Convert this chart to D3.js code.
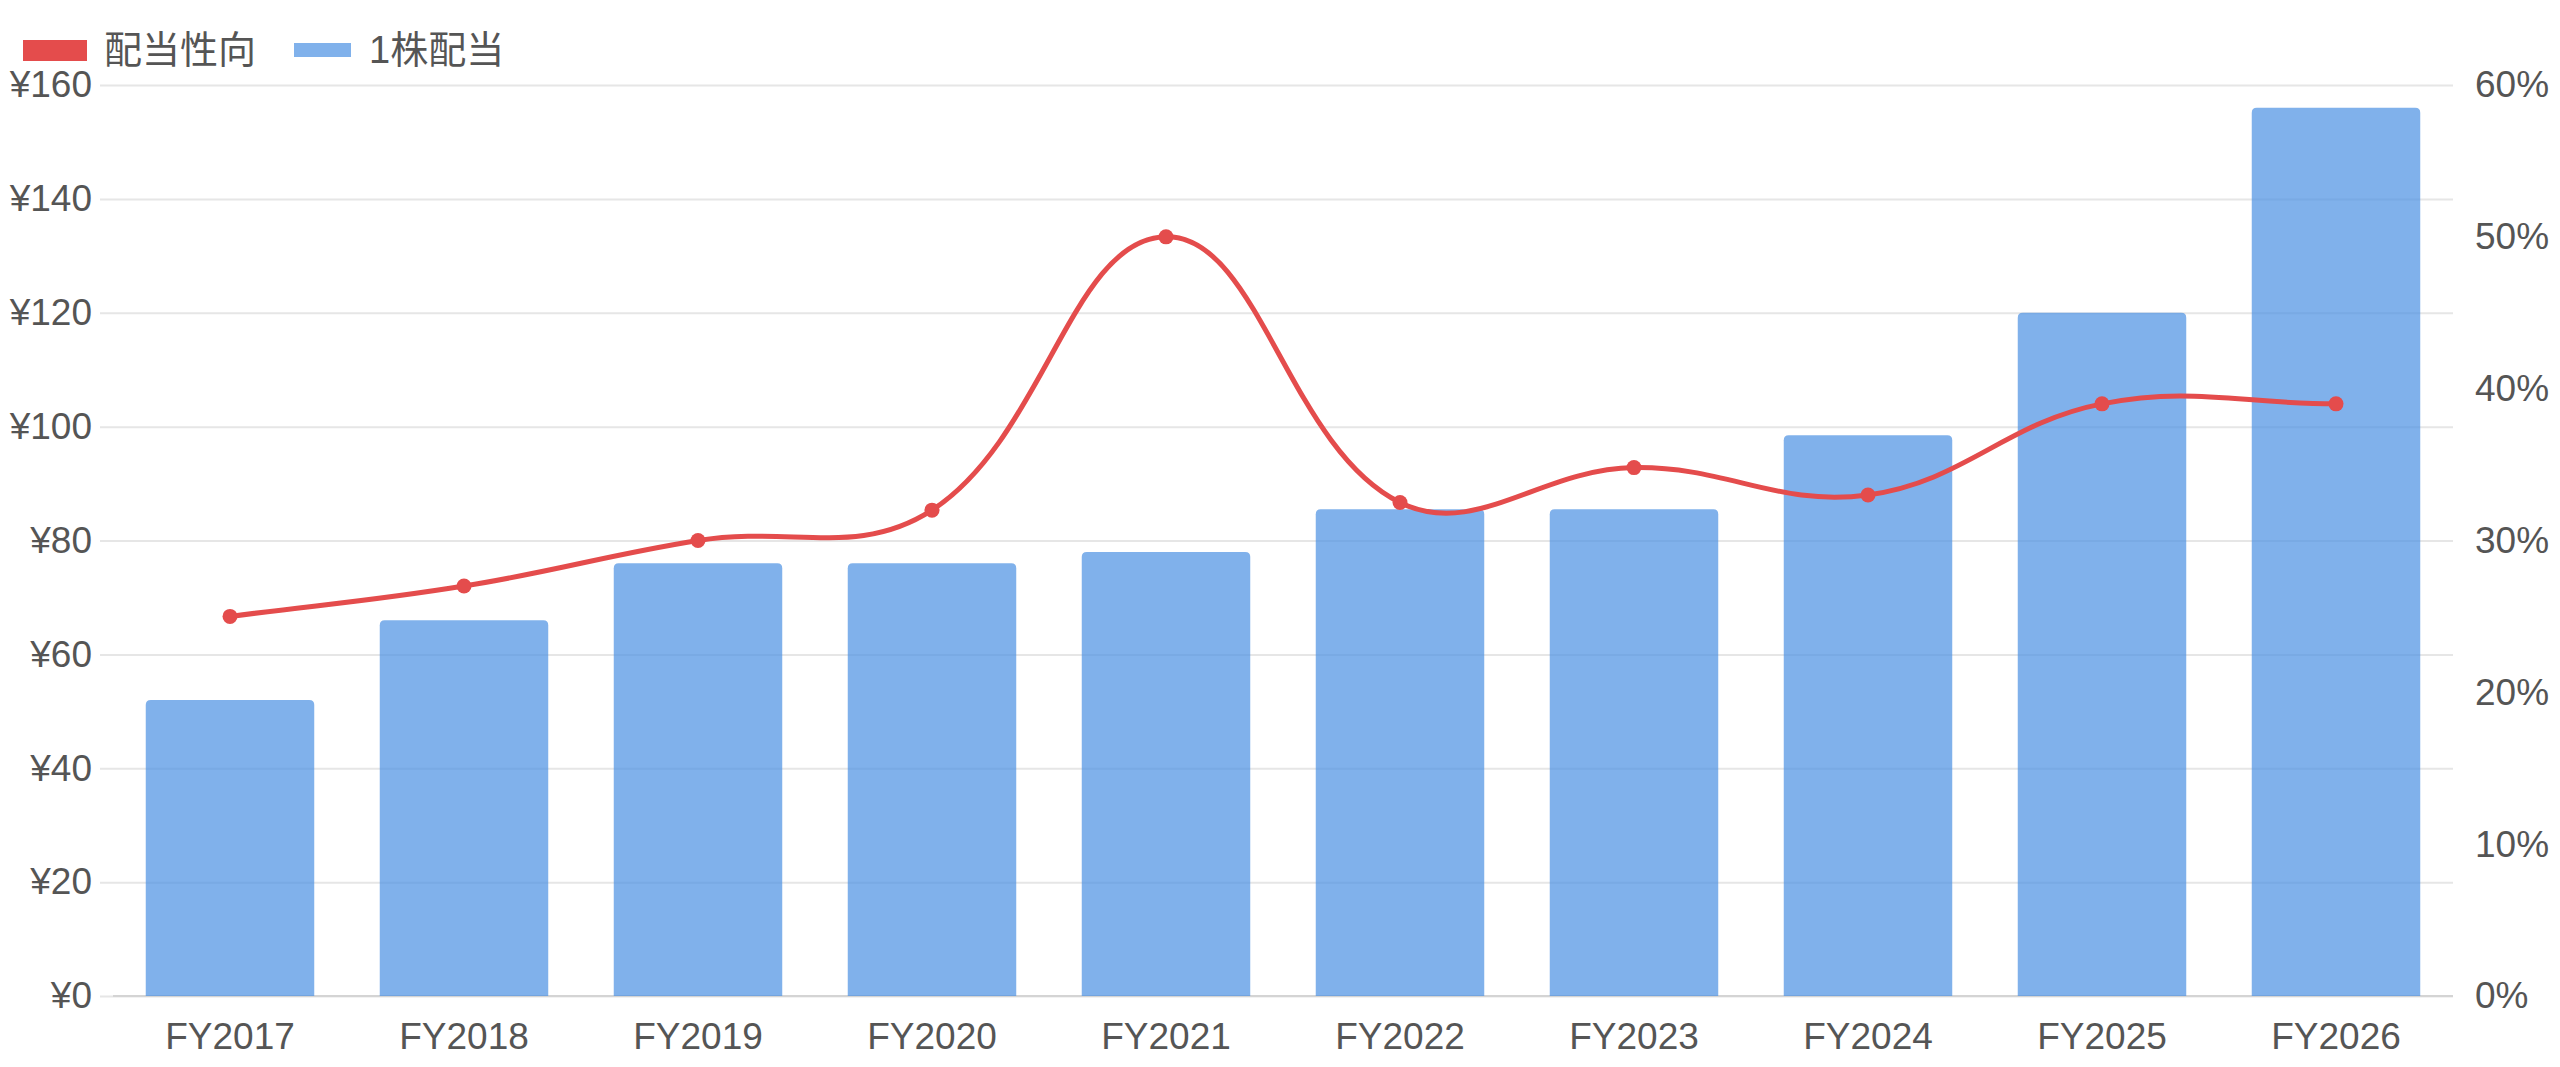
<!DOCTYPE html>
<meta charset="utf-8">
<html>
<head>
<style>
  body { margin: 0; background: #fff; }
  text { font-family: "Liberation Sans", "Noto Sans CJK JP", sans-serif; fill: #555; }
</style>
</head>
<body>
<div id="chartContainer"></div>
<script src="https://cdn.jsdelivr.net/npm/d3@7"></script>
<script>
  var categories = ["FY2017", "FY2018", "FY2019", "FY2020", "FY2021", "FY2022", "FY2023", "FY2024", "FY2025", "FY2026"];
  // 1株配当 (yen)
  var dividend = [52, 66, 76, 76, 78, 85.5, 85.5, 98.5, 120, 156];
  // 配当性向 (%)
  var payout = [25, 27, 30, 32, 50, 32.5, 34.8, 33, 39, 39];
  var leftTicks = [0, 20, 40, 60, 80, 100, 120, 140, 160];
  var rightTicks = [0, 10, 20, 30, 40, 50, 60];
  var legendItems = ["配当性向", "1株配当"];

  var width = 2560, height = 1067;
  var plotLeft = 113, plotRight = 2453, plotTop = 85, plotBottom = 996;
  var red = "#e44c4c", blue = "rgba(74,144,226,0.7)";

  var svg = d3.select("#chartContainer").append("svg")
    .attr("width", width).attr("height", height);

  var x = d3.scaleBand().domain(categories).range([plotLeft, plotRight])
    .paddingInner(0.28).paddingOuter(0.14);
  var yL = d3.scaleLinear().domain([0, 160]).range([plotBottom, plotTop]);
  var yR = d3.scaleLinear().domain([0, 60]).range([plotBottom, plotTop]);

  // left axis + grid
  var gl = svg.append("g").attr("transform", "translate(100,0)")
    .call(d3.axisLeft(yL).tickValues(leftTicks).tickFormat(function (d) { return "¥" + d; })
      .tickSize(-(plotRight - 100)).tickPadding(8));
  gl.select(".domain").remove();
  gl.selectAll("line").attr("stroke", "#e6e6e6").attr("stroke-width", 2);
  gl.selectAll("text").style("font-size", "37px").attr("fill", "#555");

  // x axis border
  svg.append("line").attr("x1", plotLeft).attr("x2", plotRight).attr("y1", plotBottom).attr("y2", plotBottom)
    .attr("stroke", "#d4d4d4").attr("stroke-width", 2);

  // right axis labels
  var gr = svg.append("g").attr("transform", "translate(" + plotRight + ",0)")
    .call(d3.axisRight(yR).tickValues(rightTicks).tickFormat(function (d) { return d + "%"; })
      .tickSize(0).tickPadding(22));
  gr.select(".domain").remove();
  gr.selectAll("text").style("font-size", "37px").attr("fill", "#555");

  // bottom labels
  var gb = svg.append("g").attr("transform", "translate(0," + plotBottom + ")")
    .call(d3.axisBottom(x).tickSize(0));
  gb.select(".domain").remove();
  gb.selectAll("text").attr("y", 40).attr("dy", "0.35em").style("font-size", "37px").attr("fill", "#555");

  // bars with rounded top corners
  var r = 5;
  svg.append("g").selectAll("path")
    .data(dividend)
    .enter()
    .append("path")
    .attr("fill", blue)
    .attr("d", function (d, i) {
      var x0 = x(categories[i]), x1 = x0 + x.bandwidth(), y0 = yL(d), y1 = yL(0);
      var p = d3.path();
      p.moveTo(x0, y1);
      p.lineTo(x0, y0 + r);
      p.quadraticCurveTo(x0, y0, x0 + r, y0);
      p.lineTo(x1 - r, y0);
      p.quadraticCurveTo(x1, y0, x1, y0 + r);
      p.lineTo(x1, y1);
      p.closePath();
      return p.toString();
    });

  // payout line, spline like Chart.js (tension 0.4)
  var pts = payout.map(function (d, i) {
    return [x(categories[i]) + x.bandwidth() / 2, yR(d)];
  });
  function splinePath(pts, t) {
    var cps = pts.map(function (cur, i) {
      var prev = pts[Math.max(i - 1, 0)], next = pts[Math.min(i + 1, pts.length - 1)];
      var d01 = Math.hypot(cur[0] - prev[0], cur[1] - prev[1]);
      var d12 = Math.hypot(next[0] - cur[0], next[1] - cur[1]);
      var s01 = d01 / (d01 + d12) || 0, s12 = d12 / (d01 + d12) || 0;
      var fa = t * s01, fb = t * s12;
      return {
        prev: [cur[0] - fa * (next[0] - prev[0]), cur[1] - fa * (next[1] - prev[1])],
        next: [cur[0] + fb * (next[0] - prev[0]), cur[1] + fb * (next[1] - prev[1])]
      };
    });
    var p = d3.path();
    p.moveTo(pts[0][0], pts[0][1]);
    for (var i = 1; i < pts.length; i++) {
      p.bezierCurveTo(cps[i - 1].next[0], cps[i - 1].next[1], cps[i].prev[0], cps[i].prev[1], pts[i][0], pts[i][1]);
    }
    return p.toString();
  }
  svg.append("path")
    .attr("d", splinePath(pts, 0.4))
    .attr("fill", "none")
    .attr("stroke", red)
    .attr("stroke-width", 5);

  svg.append("g").selectAll("circle")
    .data(payout)
    .enter()
    .append("circle")
    .attr("cx", function (d, i) { return x(categories[i]) + x.bandwidth() / 2; })
    .attr("cy", function (d) { return yR(d); })
    .attr("r", 7.5)
    .attr("fill", red);

  // legend
  svg.append("rect").attr("x", 23).attr("y", 40).attr("width", 64).attr("height", 21).attr("fill", red);
  svg.append("rect").attr("x", 294).attr("y", 43).attr("width", 57).attr("height", 14).attr("fill", blue);
  svg.selectAll("legend_text")
    .data(legendItems)
    .enter()
    .append("text")
    .attr("x", function (d, i) { return i === 0 ? 104 : 369; })
    .attr("y", 50)
    .attr("dy", "0.35em")
    .style("font-size", "38px")
    .text(function (d) { return d; });
</script>
</body>
</html>
